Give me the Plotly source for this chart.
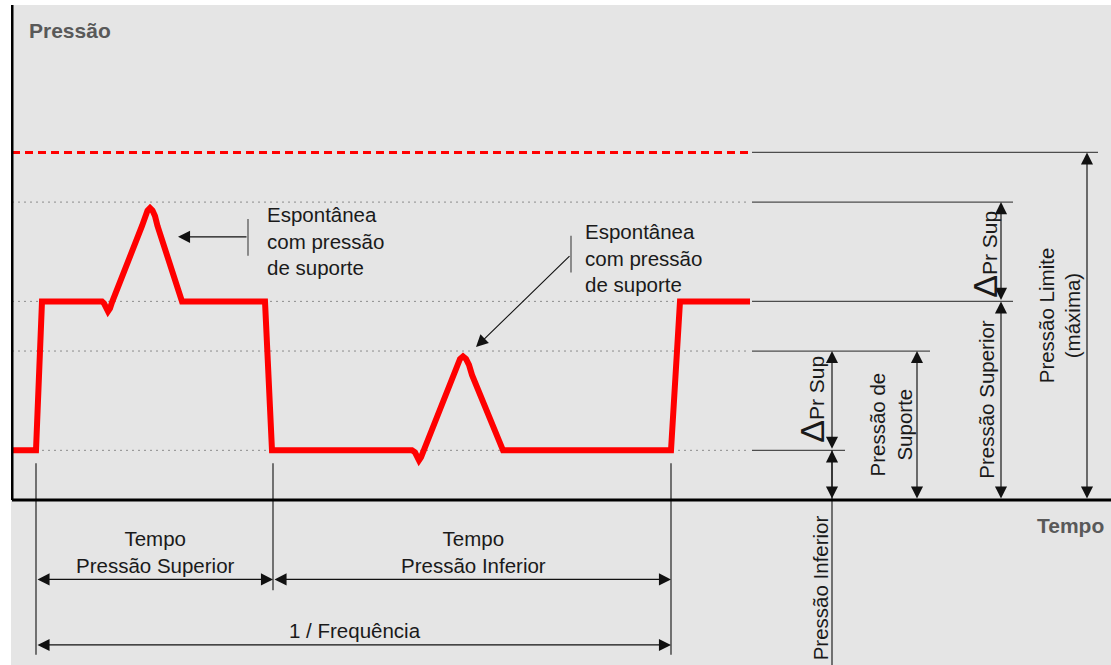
import plotly.graph_objects as go

# níveis de pressão (unidades arbitrárias)
P_INF = 5
P_SUPORTE = 15
P_SUP = 20
P_SUP_DELTA = 30
P_LIM = 35

# forma de onda da pressão
tempo = [0, 2.4, 3.0, 9.0, 9.2, 9.4, 9.6, 9.8, 10.0,
         13.0, 13.3, 13.55, 13.8, 14.05, 14.3, 14.55, 17.0, 25.3, 26.0,
         40.0, 40.3, 40.5, 40.7, 40.9, 41.1,
         44.2, 44.5, 44.8, 45.1, 45.4, 45.7, 46.0, 49.1, 65.9, 66.8, 73.8]
pressao = [5, 5, 20, 20, 19.8, 19.3, 19.0, 19.3, 19.9,
           27.6, 28.6, 29.15, 29.4, 29.15, 28.6, 27.6, 20, 20, 5,
           5, 4.8, 4.3, 4.0, 4.3, 4.8,
           12.6, 13.6, 14.2, 14.45, 14.2, 13.6, 12.6, 5, 5, 20, 20]

T_FIM = 73.8
T_INICIO = 2.4
T_TROCA = 26.1
T_CICLO = 65.9

# linhas de referência: nível e fim da linha de cota
niveis_guia = [P_SUP_DELTA, P_SUP, P_SUPORTE, P_INF]
fim_guia = [100.1, 100.1, 91.8, 83.3]
FIM_LIM = 108.6

# posições das cotas verticais
X_LIM = 107.5
X_SUP = 98.9
X_SUPORTE = 90.5
X_INF = 82.0

# cotas de tempo (abaixo do eixo)
Y_COTA_T = -8.0
Y_COTA_F = -14.6

X_MAX = 109.9
Y_MIN, Y_MAX = -16.62, 49.85

TXT = "#1a1a1a"
LINHA = "#4d4d4d"
FONTE = "Liberation Sans, Arial, sans-serif"

fig = go.Figure()

# linhas pontilhadas de nível
for p in niveis_guia:
    fig.add_trace(go.Scatter(x=[0, T_FIM], y=[p, p], mode="lines",
                             line=dict(color="#8c8c8c", width=1, dash="2px,4px"),
                             hoverinfo="skip"))
# linhas de cota contínuas
for p, fim in zip(niveis_guia, fim_guia):
    fig.add_trace(go.Scatter(x=[T_FIM + 0.2, fim], y=[p, p], mode="lines",
                             line=dict(color=LINHA, width=1.2), hoverinfo="skip"))
fig.add_trace(go.Scatter(x=[T_FIM + 0.2, FIM_LIM], y=[P_LIM, P_LIM], mode="lines",
                         line=dict(color=LINHA, width=1.2), hoverinfo="skip"))

# pressão limite (tracejada)
fig.add_trace(go.Scatter(x=[0, T_FIM], y=[P_LIM, P_LIM], mode="lines",
                         line=dict(color="#ff0000", width=3, dash="8px,5px"),
                         hoverinfo="skip"))

# marcas verticais de tempo
for t, base in [(T_INICIO, -15.6), (T_TROCA, -9.1), (T_CICLO, -15.6)]:
    fig.add_trace(go.Scatter(x=[t, t], y=[3.7, base], mode="lines",
                             line=dict(color="#222", width=1.2), hoverinfo="skip"))
# linha da pressão inferior
fig.add_trace(go.Scatter(x=[X_INF, X_INF], y=[P_INF, Y_MIN], mode="lines",
                         line=dict(color="#222", width=1.2), hoverinfo="skip"))

# marcas das anotações "Espontânea"
fig.add_trace(go.Scatter(x=[23.6, 23.6], y=[28.3, 24.6], mode="lines",
                         line=dict(color=LINHA, width=1.2), hoverinfo="skip"))
fig.add_trace(go.Scatter(x=[55.9, 55.9], y=[26.6, 22.9], mode="lines",
                         line=dict(color=LINHA, width=1.2), hoverinfo="skip"))

# forma de onda
fig.add_trace(go.Scatter(x=tempo, y=pressao, mode="lines",
                         line=dict(color="#ff0000", width=6), hoverinfo="skip"))

# eixos
fig.add_shape(type="line", x0=0, x1=0, y0=0, y1=Y_MAX,
              line=dict(color="black", width=3))
fig.add_shape(type="line", x0=0, x1=X_MAX, y0=0, y1=0,
              line=dict(color="black", width=3))


def seta(x0, y0, x1, y1, dupla=True):
    fig.add_annotation(x=x1, y=y1, ax=x0, ay=y0, xref="x", yref="y",
                       axref="x", ayref="y", text="", showarrow=True,
                       arrowhead=2, startarrowhead=2, arrowsize=2.1,
                       startarrowsize=2.1, arrowwidth=1.15, arrowcolor="#111",
                       arrowside="end+start" if dupla else "end",
                       standoff=0, startstandoff=0)


# cotas verticais
seta(X_LIM, 0, X_LIM, P_LIM)
seta(X_SUP, P_SUP, X_SUP, P_SUP_DELTA)
seta(X_SUP, 0, X_SUP, P_SUP)
seta(X_SUPORTE, 0, X_SUPORTE, P_SUPORTE)
seta(X_INF, P_INF, X_INF, P_SUPORTE)
seta(X_INF, 0, X_INF, P_INF)

# cotas de tempo
seta(T_INICIO, Y_COTA_T, T_TROCA, Y_COTA_T)
seta(T_TROCA, Y_COTA_T, T_CICLO, Y_COTA_T)
seta(T_INICIO, Y_COTA_F, T_CICLO, Y_COTA_F)

# setas das anotações
seta(23.6, 26.5, 16.6, 26.5, dupla=False)
seta(55.9, 24.7, 46.4, 15.4, dupla=False)


def texto(x, y, s, size=20.5, angle=0, align="center", xanchor="center", cor=TXT):
    fig.add_annotation(x=x, y=y, xref="x", yref="y", text=s, showarrow=False,
                       textangle=angle, align=align, xanchor=xanchor,
                       yanchor="middle", font=dict(family=FONTE, size=size, color=cor))


texto(1.5, 47.3, "<b>Pressão</b>", size=21, xanchor="left", cor="#595959")
texto(105.8, -2.6, "<b>Tempo</b>", size=21, cor="#595959")

texto(25.3, 26.1, "Espontânea<br>com pressão<br>de suporte", size=20.5,
      align="left", xanchor="left")
texto(57.1, 24.4, "Espontânea<br>com pressão<br>de suporte", size=20.5,
      align="left", xanchor="left")

texto(14.3, -5.2, "Tempo<br>Pressão Superior")
texto(46.1, -5.2, "Tempo<br>Pressão Inferior")
texto(34.3, -13.1, "1 / Frequência")

DELTA = "<span style='font-size:34px'>Δ</span>Pr Sup"
texto(104.8, 18.6, "Pressão Limite<br>(máxima)", angle=-90)
texto(97.5, 10.1, "Pressão Superior", angle=-90)
texto(97.3, 24.7, DELTA, size=21, angle=-90)
texto(87.9, 7.6, "Pressão de<br>Suporte", angle=-90)
texto(80.0, 10.1, DELTA, size=21, angle=-90)
texto(80.8, -8.9, "Pressão Inferior", angle=-90)

fig.update_layout(
    width=1111, height=665,
    margin=dict(l=11, r=0, t=5, b=0),
    paper_bgcolor="white", plot_bgcolor="#e5e5e5",
    showlegend=False,
    xaxis=dict(range=[-0.1, X_MAX], visible=False, fixedrange=True),
    yaxis=dict(range=[Y_MIN, Y_MAX], visible=False, fixedrange=True),
)

# a página tem margem padrão de 8px no body
fig.write_html("out.html", config={"displayModeBar": False},
               post_script="document.body.style.margin='0';"
                           "document.body.style.overflow='hidden';")
